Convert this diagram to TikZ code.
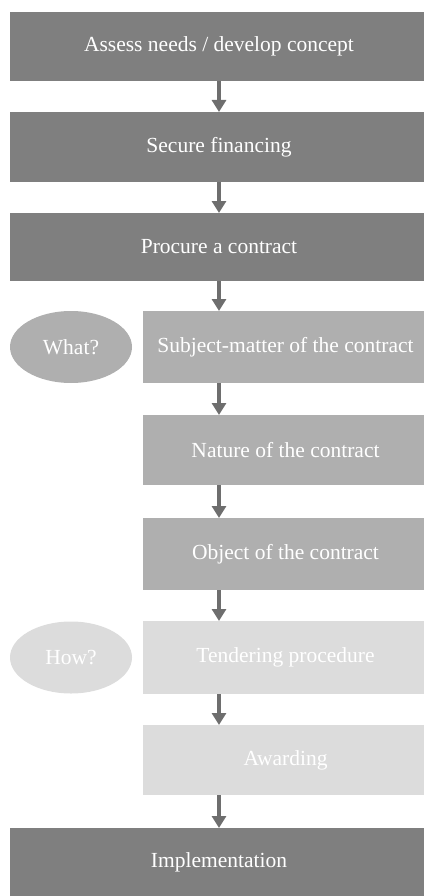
\documentclass[tikz,border=0pt]{standalone}
\usepackage{fontspec}
\setmainfont{Liberation Serif}
\usetikzlibrary{arrows.meta,shapes.geometric}
\definecolor{darkbox}{HTML}{7F7F7F}
\definecolor{midbox}{HTML}{AFAFAF}
\definecolor{lightbox}{HTML}{DCDCDC}
\definecolor{arrowcol}{HTML}{6E6E6E}
\begin{document}
\begin{tikzpicture}[x=1pt,y=-1pt,
  boxbase/.style={rectangle,inner sep=0pt,outer sep=0pt,text=white,
    font=\fontsize{21.5}{24}\selectfont},
  widebox/.style={boxbase,minimum width=418pt},
  narrowbox/.style={boxbase,minimum width=285pt},
  darkfill/.style={fill=darkbox},
  midfill/.style={fill=midbox},
  lightfill/.style={fill=lightbox},
  qell/.style={ellipse,inner sep=0pt,outer sep=0pt,minimum width=122pt,minimum height=72pt,
    text=white,font=\fontsize{21.5}{24}\selectfont},
  flow/.style={draw=arrowcol,line width=4.5pt,-{Triangle[width=14pt,length=12pt]}}
]
\useasboundingbox (0,0) rectangle (423,896);
\node[widebox,darkfill,minimum height=69pt] (b1) at (219,46.5) {Assess needs / develop concept};
\node[widebox,darkfill,minimum height=70pt] (b2) at (219,147) {Secure financing};
\node[widebox,darkfill,minimum height=68pt] (b3) at (219,247) {Procure a contract};
\node[narrowbox,midfill,minimum height=72pt] (b4) at (285.5,347) {Subject-matter of the contract};
\node[narrowbox,midfill,minimum height=70pt] (b5) at (285.5,450) {Nature of the contract};
\node[narrowbox,midfill,minimum height=72pt] (b6) at (285.5,554) {Object of the contract};
\node[narrowbox,lightfill,minimum height=73pt] (b7) at (285.5,657.5) {Tendering procedure};
\node[narrowbox,lightfill,minimum height=70pt] (b8) at (285.5,760) {Awarding};
\node[widebox,darkfill,minimum height=69pt] (b9) at (219,862.5) {Implementation};
\node[qell,fill=midbox] (what) at (71,347) {What?};
\node[qell,fill=lightbox] (how) at (71,657.5) {How?};
\coordinate (col) at (219,0);
\draw[flow] (b1.south) -- (b2.north);
\draw[flow] (b2.south) -- (b3.north);
\draw[flow] (b3.south) -- (b4.north -| col);
\draw[flow] (b4.south -| col) -- (b5.north -| col);
\draw[flow] (b5.south -| col) -- (b6.north -| col);
\draw[flow] (b6.south -| col) -- (b7.north -| col);
\draw[flow] (b7.south -| col) -- (b8.north -| col);
\draw[flow] (b8.south -| col) -- (b9.north);
\end{tikzpicture}
\end{document}
